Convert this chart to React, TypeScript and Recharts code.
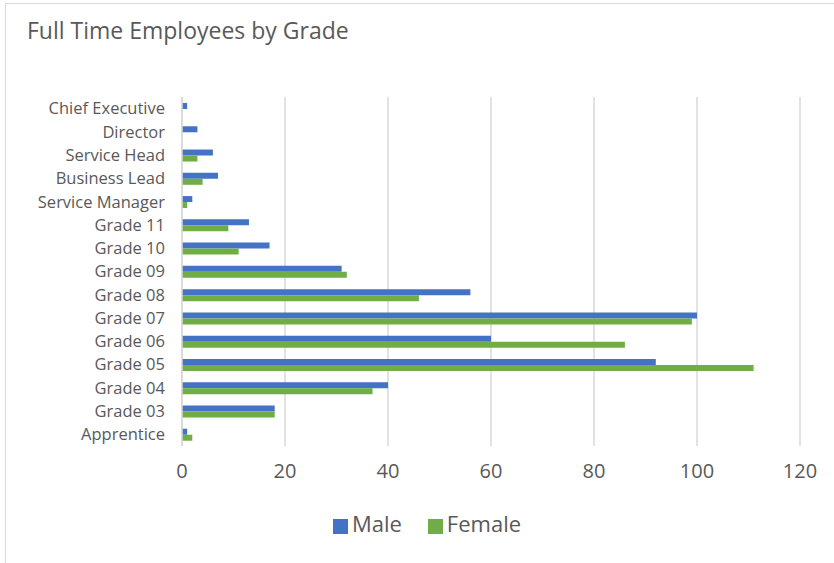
import { BarChart, Bar, XAxis, YAxis, CartesianGrid, Legend } from 'recharts';

const grades = [
  "Chief Executive", "Director", "Service Head", "Business Lead", "Service Manager",
  "Grade 11", "Grade 10", "Grade 09", "Grade 08", "Grade 07", "Grade 06",
  "Grade 05", "Grade 04", "Grade 03", "Apprentice",
];
const male = [1, 3, 6, 7, 2, 13, 17, 31, 56, 100, 60, 92, 40, 18, 1];
const female = [0, 0, 3, 4, 1, 9, 11, 32, 46, 99, 86, 111, 37, 18, 2];
const xTicks = [0, 20, 40, 60, 80, 100, 120];
const seriesOrder = ["Male", "Female"];

const data = grades.map((grade, i) => ({ grade, Male: male[i], Female: female[i] }));

const font = "'Open Sans', sans-serif";
const textColor = "#595959";

export default function App() {
  return (
    <div style={{ position: 'absolute', left: 0, top: 0, width: 834, height: 563, background: '#fff', fontFamily: font, overflow: 'hidden' }}>
      <div style={{ position: 'absolute', left: 5, top: 3, width: 860, height: 600, border: '1px solid #d9d9d9' }} />
      <div style={{ position: 'absolute', left: 27, top: 14, fontSize: 23, color: textColor }}>
        Full Time Employees by Grade
      </div>
      <div style={{ position: 'absolute', left: 0, top: 0 }}>
        <BarChart
          width={834}
          height={563}
          data={data}
          layout="vertical"
          margin={{ top: 97, right: 34, bottom: 57, left: 0 }}
          barSize={6}
          barGap={0}
        >
          <CartesianGrid horizontal={false} stroke="#d9d9d9" strokeWidth={1.5} />
          <XAxis
            type="number"
            domain={[0, 120]}
            ticks={xTicks}
            axisLine={false}
            tickLine={false}
            tick={{ fill: textColor, fontSize: 20, fontFamily: font }}
            tickMargin={12}
            height={30}
          />
          <YAxis
            type="category"
            dataKey="grade"
            width={182}
            axisLine={{ stroke: '#d9d9d9', strokeWidth: 1.5 }}
            tickLine={false}
            tickSize={0}
            tickMargin={17}
            interval={0}
            tick={{ fill: textColor, fontSize: 16.5, fontFamily: font }}
          />
          <Legend
            iconType="square"
            iconSize={15}
            itemSorter={(item: any) => seriesOrder.indexOf(item.value)}
            wrapperStyle={{ top: 508, left: 0, width: 880, fontSize: 22, fontFamily: font }}
            formatter={(v) => <span style={{ color: textColor, marginRight: 16 }}>{v}</span>}
          />
          <Bar dataKey="Male" fill="#4472C4" isAnimationActive={false} />
          <Bar dataKey="Female" fill="#70AD47" isAnimationActive={false} />
        </BarChart>
      </div>
    </div>
  );
}
